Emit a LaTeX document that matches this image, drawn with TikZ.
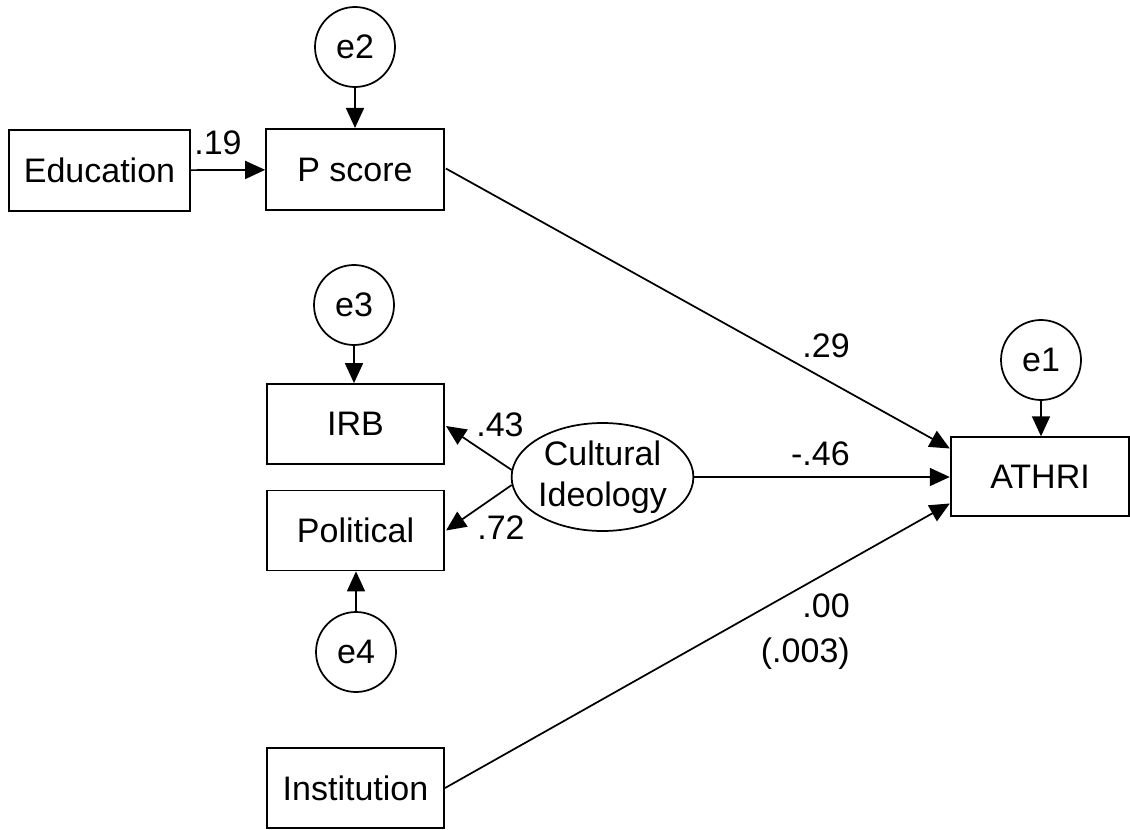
\documentclass[tikz,border=0pt]{standalone}
\usepackage{fontspec}
\setmainfont{Liberation Sans}
\usetikzlibrary{arrows.meta,calc,shapes.geometric}
\begin{document}
\begin{tikzpicture}[x=0.75pt,y=-0.75pt,
  font=\fontsize{25.5}{31}\selectfont,
  every node/.style={inner sep=0pt},
  box/.style={draw,line width=1.3pt,minimum width=133pt,minimum height=60pt},
  err/.style={draw,circle,line width=1.3pt,minimum size=60pt},
  latent/.style={draw,ellipse,line width=1.3pt,minimum width=133pt,minimum height=81pt,align=center},
  path/.style={line width=1.3pt,-{Triangle[length=15pt,width=13.5pt]}},
  lbl/.style={}]
\useasboundingbox (0,0) rectangle (1130,830);
% nodes
\node[box,minimum width=136pt,minimum height=61pt] (edu) at (99.5,170.5) {Education};
\node[box,minimum width=133.5pt,minimum height=61pt] (pscore) at (355,169.5) {P score};
\node[err] (e2) at (355,47) {e2};
\node[err] (e3) at (354,305) {e3};
\node[box] (irb) at (355.5,424) {IRB};
\node[box] (pol) at (355.5,530.5) {Political};
\node[err] (e4) at (356,652) {e4};
\node[box] (inst) at (355.5,788) {Institution};
\node[latent] (cult) at (602.5,477) {Cultural\\Ideology};
\node[box,minimum width=134pt,minimum height=59pt] (athri) at (1040,476.5) {ATHRI};
\node[err] (e1) at (1041,360) {e1};
% connectors
\draw[path] (edu) -- (pscore);
\draw[path] (e2) -- (pscore);
\draw[path] (e3.south) -- (e3.south |- irb.north);
\draw[path] (e4.north) -- (e4.north |- pol.south);
\draw[path] (e1.south) -- (e1.south |- athri.north);
\draw[path] ($(cult.west)+(1,-7)$) -- ($(irb.east)+(1,2)$);
\draw[path] ($(cult.west)+(1,8)$) -- ($(pol.east)+(1,0)$);
\draw[path] ($(pscore.east)+(1,-1)$) -- ($(athri.west)+(0,-28)$);
\draw[path] (cult.east) -- (cult.east -| athri.west);
\draw[path] (inst.east) -- ($(athri.west)+(0,27)$);
% labels
\node[lbl] (l19) at (218,143) {.19};
\node[lbl] (l43) at (500,425) {.43};
\node[lbl] (l72) at (501,528) {.72};
\node[lbl,anchor=east] (l29) at (850,346) {.29};
\node[lbl,anchor=east] (l46) at (850,454) {-.46};
\node[lbl,anchor=north east,align=right] (l00) at (850,593) {.00\\[3pt](.003)};
\end{tikzpicture}
\end{document}
